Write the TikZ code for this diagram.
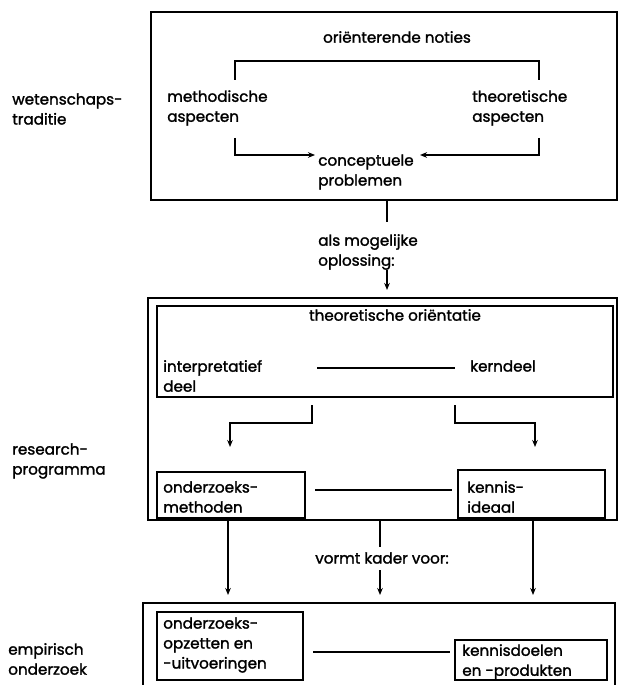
\documentclass[tikz,border=0pt]{standalone}
\usepackage{fontspec}
\setmainfont{Poppins}[RawFeature={embolden=1.6}]
\usetikzlibrary{arrows.meta,positioning}

\def\pxu{0.25mm}
\tikzset{
  kader/.style 2 args={draw, line width=0.9pt, inner sep=0pt, minimum width=#1*\pxu, minimum height=#2*\pxu},
  tekst/.style={align=left, anchor=west, inner sep=0pt, font=\fontsize{10.8}{14.2}\selectfont},
  midtekst/.style={align=center, inner sep=0pt, font=\fontsize{10.8}{14.2}\selectfont},
  lijn/.style={line width=0.9pt},
  pijl/.style={line width=0.9pt, -{Stealth[length=5pt,width=4pt]}},
}

\begin{document}
\begin{tikzpicture}[x=0.25mm,y=-0.25mm]
  \useasboundingbox (0,0) rectangle (618,685);

  % wetenschapstraditie
  \node[kader={466}{188}] (traditie) at (384,106) {};
  \node[midtekst] (notities) at (397,37) {oriënterende noties};
  \node[tekst] (methodisch) at (167,108) {methodische\\aspecten};
  \node[tekst] (theoretisch) at (472,108) {theoretische\\aspecten};
  \node[tekst] (concept) at (318,172) {conceptuele\\problemen};
  \node[tekst] (wlabel) at (12,109) {wetenschaps-\\traditie};

  \coordinate (m1) at (235,80);
  \coordinate (t1) at (539,80);
  \draw[lijn] (m1) -- ++(0,-19) -| (t1);
  \coordinate (m2) at (235,138);
  \coordinate (t2) at (539,138);
  \coordinate (c1) at (315,155);
  \coordinate (c2) at (420,155);
  \draw[pijl] (m2) |- (c1);
  \draw[pijl] (t2) |- (c2);

  % als mogelijke oplossing
  \coordinate (o1) at (387,222);
  \draw[lijn] (o1 |- traditie.south) -- (o1);
  \node[tekst] (oplossing) at (318,252) {als mogelijke\\oplossing:};
  \coordinate (o2) at (387,270);
  \coordinate (o3) at (387,290);
  \draw[pijl] (o2) -- (o3);

  % researchprogramma
  \node[kader={469}{222}] (programma) at (382.5,409) {};
  \node[kader={456}{91}] (orientatie) at (385,351.5) {};
  \node[midtekst] (orikop) at (395,315) {theoretische oriëntatie};
  \node[tekst] (interp) at (163,376) {interpretatief\\deel};
  \node[tekst] (kern) at (470,366) {kerndeel};
  \node[kader={148}{46}] (methoden) at (231,495) {};
  \node[tekst] (mtekst) at (163,497) {onderzoeks-\\methoden};
  \node[kader={147}{48}] (ideaal) at (531.5,494) {};
  \node[tekst] (itekst) at (467,497) {kennis-\\ideaal};
  \node[tekst] (rlabel) at (12,461) {research-\\programma};

  \coordinate (h1a) at (317,368);
  \coordinate (h1b) at (455,368);
  \draw[lijn] (h1a) -- (h1b);
  \coordinate (h2a) at (315,490);
  \coordinate (h2b) at (452,490);
  \draw[lijn] (h2a) -- (h2b);

  \coordinate (i1) at (312,405);
  \coordinate (i2) at (230,447);
  \draw[pijl] (i1) -- ++(0,18) -| (i2);
  \coordinate (k1) at (455,405);
  \coordinate (k2) at (535,447);
  \draw[pijl] (k1) -- ++(0,18) -| (k2);

  % vormt kader voor
  \coordinate (v1) at (228,595);
  \coordinate (v3) at (533,595);
  \draw[pijl] (v1 |- programma.south) -- (v1);
  \draw[pijl] (v3 |- programma.south) -- (v3);
  \coordinate (v2a) at (380,547);
  \draw[lijn] (v2a |- programma.south) -- (v2a);
  \node[midtekst] (kaderv) at (382,558) {vormt kader voor:};
  \coordinate (v2b) at (380,570);
  \coordinate (v2c) at (380,595);
  \draw[pijl] (v2b) -- (v2c);

  % empirisch onderzoek
  \node[kader={472}{92}] (empirie) at (379,649) {};
  \node[kader={146}{68}] (opzetten) at (230,646) {};
  \node[tekst] (otekst) at (163,645) {onderzoeks-\\opzetten en\\-uitvoeringen};
  \node[kader={152}{40}] (doelen) at (531,660) {};
  \node[tekst] (dtekst) at (462,662) {kennisdoelen\\en -produkten};
  \node[tekst] (elabel) at (8,659) {empirisch\\onderzoek};

  \coordinate (h3a) at (313,652);
  \coordinate (h3b) at (450,652);
  \draw[lijn] (h3a) -- (h3b);
\end{tikzpicture}
\end{document}
